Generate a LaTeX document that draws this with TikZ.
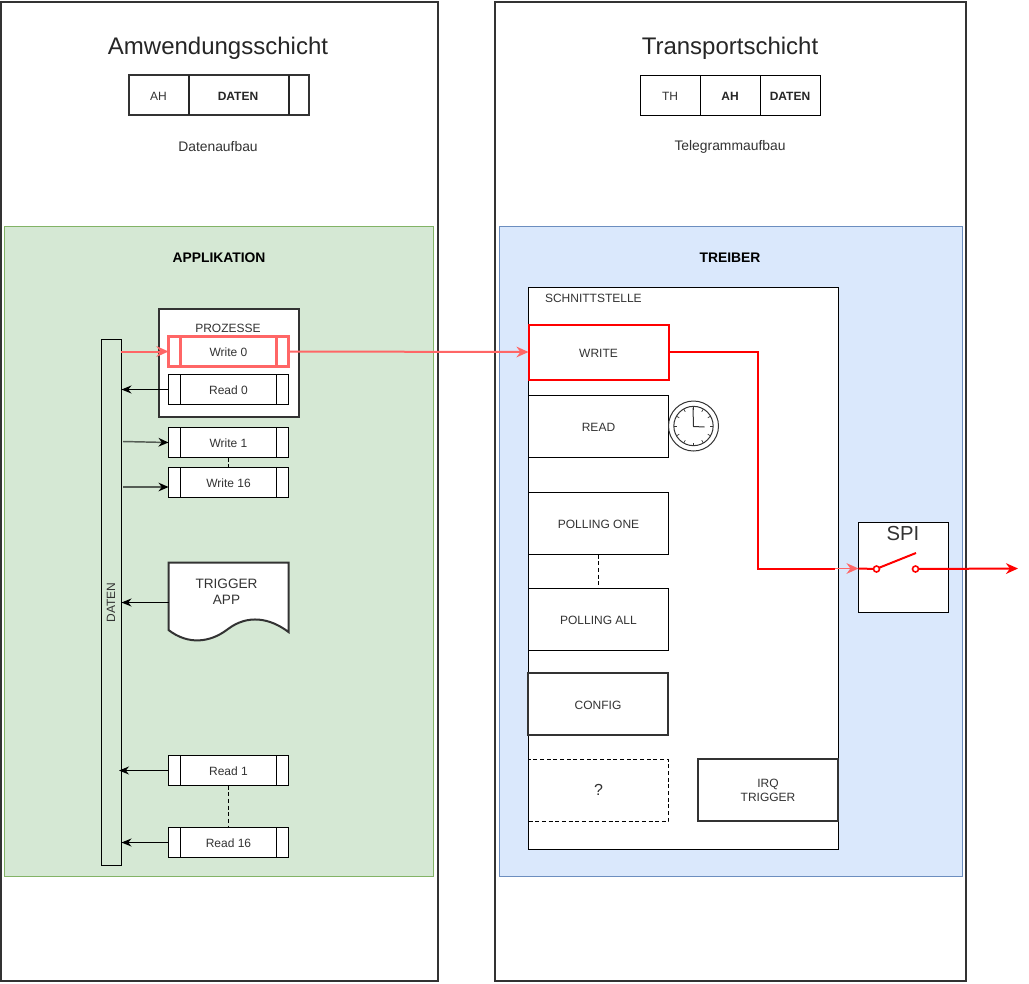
\documentclass[tikz,border=0pt]{standalone}
\usepackage{fontspec}
\setmainfont{Liberation Sans}
\usetikzlibrary{arrows.meta,calc}
\definecolor{grn}{HTML}{D5E8D4}
\definecolor{grnb}{HTML}{82B366}
\definecolor{blu}{HTML}{DAE8FC}
\definecolor{blub}{HTML}{6C8EBF}
\definecolor{txt}{HTML}{333333}
\definecolor{pink}{HTML}{FF6666}
\tikzset{
 x=0.75pt,y=-0.75pt,
 every node/.style={font=\fontsize{9}{10.5}\selectfont,text=txt,align=center,inner sep=0pt,outer sep=0pt},
 layerbox/.style={draw=txt,line width=1.5pt,fill=white},
 tint/.style={anchor=north west,line width=0.5pt},
 plainbox/.style={draw=black,fill=white,line width=0.75pt,anchor=north west},
 thickbox/.style={draw=txt,fill=white,line width=1.5pt,anchor=north west},
 lowtext/.style={text height=8pt,text depth=0pt},
 title/.style={font=\fontsize{18}{21}\selectfont,text=black!85},
 head/.style={font=\bfseries\fontsize{9}{10.5}\selectfont,text=black!85},
 bighead/.style={font=\bfseries\fontsize{10.4}{12}\selectfont,text=black},
 captiontext/.style={font=\fontsize{10.4}{12}\selectfont},
 arr/.style={-{Stealth[length=7.5pt,width=6pt]},line width=0.75pt,black},
 garr/.style={-{Stealth[length=7.5pt,width=6.5pt,color=black]},draw=black!60!grn,line width=1.1pt},
 parr/.style={-{Stealth[length=9pt,width=8pt]},line width=1.5pt,draw=pink},
 rline/.style={draw=red,line width=1.5pt},
}
% process box: name, x, y, text
\newcommand{\procbox}[4]{%
 \node[plainbox,lowtext,minimum width=90pt,minimum height=22.5pt] (#1) at (#2,#3) {#4};
 \draw[black,line width=0.75pt] ($(#1.north west)+(12,0)$) -- ($(#1.south west)+(12,0)$)
   ($(#1.north east)+(-12,0)$) -- ($(#1.south east)+(-12,0)$);}
\begin{document}
\begin{tikzpicture}
\useasboundingbox (0,0) rectangle (1029,983);
\fill[white] (0,0) rectangle (1029,983);
% layers
\node[layerbox,anchor=north west,minimum width=327.75pt,minimum height=734.25pt] (lyA) at (0.5,2) {};
\node[layerbox,anchor=north west,minimum width=353pt,minimum height=734.25pt] (lyT) at (495,2) {};
\node[title] (tA) at (218,48.5) {Amwendungsschicht};
\node[title] (tT) at (730,48.5) {Transportschicht};
% header A
\node[draw=txt,line width=1.5pt,fill=white,anchor=north west,minimum width=135pt,minimum height=30pt] (hA) at (129,75) {};
\node (hAa) at (158.5,96.5) {AH};
\node[head] (hAd) at (238,96.5) {DATEN};
\draw[black!85,line width=1.1pt] (189,75) -- (189,115) (289,75) -- (289,115);
\node[captiontext] (capA) at (218,146.5) {Datenaufbau};
% header T
\node[plainbox,minimum width=135pt,minimum height=30pt] (hT) at (640.5,75.5) {};
\node (hTa) at (670,96.5) {TH};
\node[head] (hTb) at (730,96.5) {AH};
\node[head] (hTc) at (790,96.5) {DATEN};
\draw[black,line width=0.75pt] (700.5,75.5) -- (700.5,115.5) (760.5,75.5) -- (760.5,115.5);
\node[captiontext] (capT) at (730,146.5) {Telegrammaufbau};
% tinted areas
\node[tint,draw=grnb,fill=grn,minimum width=321.75pt,minimum height=487.5pt] (app) at (4,226) {};
\node[tint,draw=blub,fill=blu,minimum width=347.25pt,minimum height=487.5pt] (trb) at (499,226) {};
\node[bighead] (hApp) at (219,257.5) {APPLIKATION};
\node[bighead] (hTrb) at (730,257.5) {TREIBER};
% Daten bar
\node[draw=black,line width=0.75pt,anchor=north west,minimum width=15pt,minimum height=394.5pt] (bar) at (101,339.5) {};
\node[rotate=90] (barl) at (111,602.5) {DATEN};
% Prozesse
\node[thickbox,minimum width=105pt,minimum height=81pt] (proz) at (158.5,309) {};
\node (prozl) at (228,328) {PROZESSE};
\procbox{w0}{168.5}{336.5}{Write 0}
\draw[draw=pink,line width=1.6pt] (w0.north west) rectangle (w0.south east)
 ($(w0.north west)+(12,0)$) -- ($(w0.south west)+(12,0)$)
 ($(w0.north east)+(-12,0)$) -- ($(w0.south east)+(-12,0)$);
\procbox{r0}{168.5}{374.5}{Read 0}
\procbox{w1}{168.5}{427.5}{Write 1}
\procbox{w16}{168.5}{467.5}{Write 16}
\procbox{r1}{168.5}{755.5}{Read 1}
\procbox{r16}{168.5}{827.5}{Read 16}
\draw[black,densely dashed,line width=0.75pt] (w1) -- (w16);
\draw[black,densely dashed,line width=0.75pt] (r1) -- (r16);
% Trigger document
\draw[draw=txt,fill=white,line width=1.5pt] (168.5,562.5) -- (288.5,562.5) -- (288.5,632)
  .. controls (270,618) and (248,614) .. (228,629)
  .. controls (210,643) and (188,645) .. (168.5,630) -- cycle;
\node[font=\fontsize{10.2}{12}\selectfont] (tg) at (226.5,591.5) {TRIGGER\\APP};
\coordinate (tgw) at (168.5,602.5);
% arrows left
\coordinate (bw0) at (121,351.5);
\coordinate (br0) at (121.5,389.5);
\coordinate (bw1) at (123,441.5);
\coordinate (bw16) at (123,487);
\coordinate (w16a) at (168.5,487);
\coordinate (btg) at (121.5,602.5);
\coordinate (br1) at (119,770.5);
\coordinate (br16) at (121.5,842.5);
\draw[parr] (bw0) -- (w0.west);
\draw[arr] (r0.west) -- (br0);
\draw[garr] (bw1) -- (w1.west);
\draw[garr] (bw16) -- (w16a);
\draw[arr] (tgw) -- (btg);
\draw[arr] (r1.west) -- (br1);
\draw[arr] (r16.west) -- (br16);
% Schnittstelle
\node[plainbox,minimum width=232.5pt,minimum height=421.5pt] (sch) at (528.5,287.5) {};
\node[anchor=west] (schl) at (545,298.5) {SCHNITTSTELLE};
\node[draw=red,fill=white,lowtext,line width=1.5pt,anchor=north west,minimum width=105pt,minimum height=41.25pt] (wr) at (528.5,324.5) {WRITE};
\node[plainbox,lowtext,minimum width=105pt,minimum height=46.5pt] (rd) at (528.5,395.5) {READ};
\node[plainbox,lowtext,minimum width=105pt,minimum height=46.5pt] (pone) at (528.5,492.5) {POLLING ONE};
\node[plainbox,lowtext,minimum width=105pt,minimum height=46.5pt] (pall) at (528.5,588.5) {POLLING ALL};
\draw[black,densely dashed,line width=0.75pt] (pone) -- (pall);
\node[thickbox,lowtext,minimum width=105pt,minimum height=46.5pt] (cfg) at (528,673) {CONFIG};
\node[draw=black,densely dashed,fill=white,line width=0.75pt,anchor=north west,minimum width=105pt,minimum height=46.5pt,text depth=1.5pt,font=\fontsize{12}{14}\selectfont] (qm) at (528.5,759.5) {?};
\node[thickbox,minimum width=105pt,minimum height=46.5pt] (irq) at (698,759) {IRQ\\TRIGGER};
% clock
\node[circle,draw=txt,fill=white,line width=0.75pt,minimum size=37.5pt] (clk) at (693.5,426) {};
\node[circle,draw=txt,line width=0.75pt,minimum size=29.5pt] (clki) at (693.5,426) {};
\foreach \a in {0,30,...,330}{\draw[txt,line width=0.5pt] (clki.center) ++(\a:19.5) -- ++(\a:-3);}
\draw[txt,line width=0.75pt] (693,407.5) -- (693.5,426.5) -- (704.5,427);
% SPI
\node[plainbox,minimum width=67.5pt,minimum height=67.5pt] (spi) at (858.5,522.5) {};
\node[font=\fontsize{15.2}{18}\selectfont] (spil) at (903,534) {SPI};
\coordinate (swa) at (876.5,569);
\coordinate (swb) at (915.5,569);
\coordinate (swt) at (916,553);
\coordinate (spiout) at (1018,568.5);
% red route
\draw[parr] (w0.east) -- (wr.west);
\coordinate (rt1) at (758,352);
\coordinate (rt2) at (758,568.5);
\coordinate (rt3) at (835,568.5);
\draw[rline] (wr.east |- rt1) -- (rt1) -- (rt2) -- (rt3);
\draw[-{Stealth[length=9pt,width=8pt]},draw=pink,line width=1.1pt] (rt3) -- (spi.west |- rt2);
\draw[rline] (spi.west |- rt2) -- (swa);
\draw[rline] (swa) ++(2,-1) -- (swt);
\draw[red,line width=1.5pt,-{Stealth[length=9pt,width=8pt]}] (swb) -- (spiout);
\draw[red,line width=1.2pt,fill=white] (swa) circle[radius=3];
\draw[red,line width=1.2pt,fill=white] (swb) circle[radius=3];
\end{tikzpicture}
\end{document}
